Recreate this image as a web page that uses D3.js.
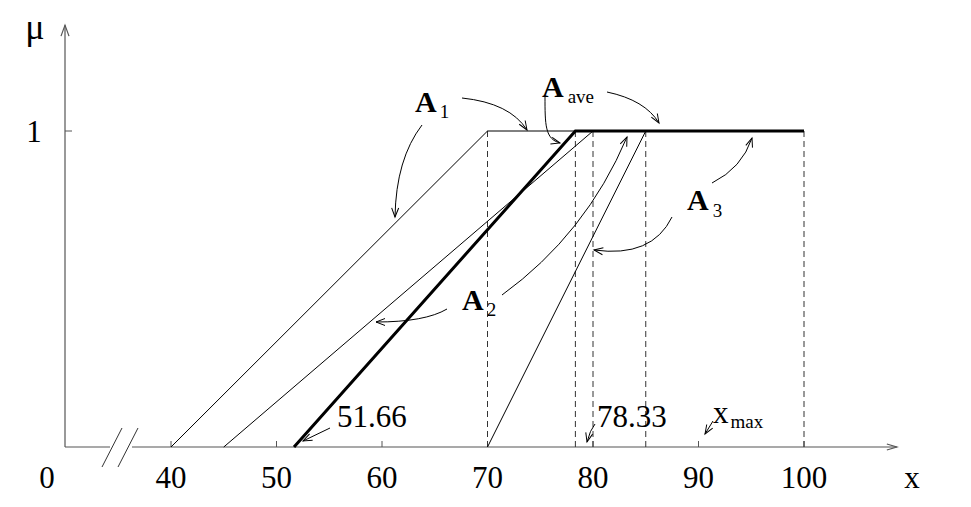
<!DOCTYPE html>
<html>
<head>
<meta charset="utf-8">
<script src="https://cdn.jsdelivr.net/npm/d3@7"></script>
<style>
  html, body { margin: 0; padding: 0; background: #fff; }
  svg text { font-family: "Liberation Serif", "Times New Roman", serif; fill: #000; }
</style>
</head>
<body>
<div id="chart"></div>
<script>
'use strict';

// membership functions (x, mu)
var xTicks = [40, 50, 60, 70, 80, 90, 100];
var seriesA1 = [[40, 0], [70, 1], [100, 1]];
var seriesA2 = [[45, 0], [80, 1], [100, 1]];
var seriesA3 = [[70, 0], [85, 1], [100, 1]];
var seriesAve = [[51.66, 0], [78.33, 1], [100, 1]];
var dashedX = [70, 78.33, 80, 85, 100];

var width = 971, height = 507;

var xScale = d3.scaleLinear().domain([40, 100]).range([171, 804]);
var yScale = d3.scaleLinear().domain([0, 1]).range([447, 131]);

var svg = d3.select('#chart')
  .append('svg')
  .attr('width', width)
  .attr('height', height);

var defs = svg.append('defs');
defs.append('marker')
  .attr('id', 'open')
  .attr('viewBox', '-10 -5 12 10')
  .attr('refX', 0)
  .attr('refY', 0)
  .attr('markerWidth', 12)
  .attr('markerHeight', 10)
  .attr('markerUnits', 'userSpaceOnUse')
  .attr('orient', 'auto')
  .append('path')
  .attr('d', 'M-9,-3.5L0,0L-9,3.5')
  .attr('fill', 'none')
  .attr('stroke', '#000')
  .attr('stroke-width', 1);

var x0 = 65, y0 = yScale(0);
var axisColor = '#555';

// axes
svg.append('line')
  .attr('x1', x0).attr('y1', y0).attr('x2', x0).attr('y2', yScale(1.335))
  .attr('stroke', axisColor).attr('stroke-width', 1.2);
svg.append('path')
  .attr('d', 'M' + (x0 - 4) + ',' + (yScale(1.335) + 11) + 'L' + x0 + ',' + yScale(1.335) + 'L' + (x0 + 4) + ',' + (yScale(1.335) + 11))
  .attr('fill', 'none').attr('stroke', axisColor).attr('stroke-width', 1.2);

svg.append('line')
  .attr('x1', x0).attr('y1', y0).attr('x2', 110).attr('y2', y0)
  .attr('stroke', axisColor).attr('stroke-width', 1.2);
svg.append('line')
  .attr('x1', 132).attr('y1', y0).attr('x2', xScale(108.8)).attr('y2', y0)
  .attr('stroke', axisColor).attr('stroke-width', 1.2);
svg.append('path')
  .attr('d', 'M' + (xScale(108.8) - 10) + ',' + (y0 - 3) + 'L' + xScale(108.8) + ',' + y0 + 'L' + (xScale(108.8) - 10) + ',' + (y0 + 3))
  .attr('fill', 'none').attr('stroke', axisColor).attr('stroke-width', 1.2);

// axis break
[102, 118].forEach(function(bx) {
  svg.append('line')
    .attr('x1', bx).attr('y1', 467).attr('x2', bx + 20).attr('y2', 428)
    .attr('stroke', '#333').attr('stroke-width', 1);
});

// ticks
svg.selectAll('.xtick')
  .data(xTicks)
  .enter().append('line')
  .attr('class', 'xtick')
  .attr('x1', function(d) { return xScale(d); })
  .attr('x2', function(d) { return xScale(d); })
  .attr('y1', y0)
  .attr('y2', y0 - 6)
  .attr('stroke', axisColor);

svg.selectAll('.xlabel')
  .data(xTicks)
  .enter().append('text')
  .attr('class', 'xlabel')
  .attr('x', function(d) { return xScale(d); })
  .attr('y', 488)
  .attr('text-anchor', 'middle')
  .attr('font-size', 31)
  .text(function(d) { return d; });

svg.append('text').attr('x', 47).attr('y', 488).attr('text-anchor', 'middle').attr('font-size', 31).text('0');
svg.append('text').attr('x', 912).attr('y', 488).attr('text-anchor', 'middle').attr('font-size', 31).text('x');

svg.append('line')
  .attr('x1', x0).attr('x2', x0 + 7).attr('y1', yScale(1)).attr('y2', yScale(1))
  .attr('stroke', axisColor);
svg.append('text').attr('x', 34).attr('y', yScale(1) + 11).attr('text-anchor', 'middle').attr('font-size', 31).text('1');
svg.append('text').attr('x', 35).attr('y', 39).attr('text-anchor', 'middle').attr('font-size', 36).text('μ');

// dashed verticals
svg.selectAll('.drop')
  .data(dashedX)
  .enter().append('line')
  .attr('class', 'drop')
  .attr('x1', function(d) { return xScale(d); })
  .attr('x2', function(d) { return xScale(d); })
  .attr('y1', yScale(1))
  .attr('y2', y0)
  .attr('stroke', '#333')
  .attr('stroke-width', 1)
  .attr('stroke-dasharray', '6,4');

// membership lines
var line = d3.line()
  .x(function(d) { return xScale(d[0]); })
  .y(function(d) { return yScale(d[1]); });

[seriesA1, seriesA2, seriesA3].forEach(function(s) {
  svg.append('path')
    .datum(s)
    .attr('d', line)
    .attr('fill', 'none')
    .attr('stroke', '#000')
    .attr('stroke-width', 1);
});

svg.append('path')
  .datum(seriesAve)
  .attr('d', line)
  .attr('fill', 'none')
  .attr('stroke', '#000')
  .attr('stroke-width', 3);

// annotation arrows (pixel layout)
var arrows = [
  'M462,98 Q510,103 527,130',
  'M422,125 Q396,159 395,217',
  'M545,96 C545,125 545,139 560,143',
  'M607,92 Q645,100 659,123',
  'M712,183 Q742,168 752,138',
  'M672,217 Q652,258 594,250',
  'M447,309 Q425,322 376,322',
  'M502,295 Q586,234 627,137',
  'M330,428 L303,441',
  'M595,424 Q590,430 587,442',
  'M713,421 L705,434'
];
svg.selectAll('.note')
  .data(arrows)
  .enter().append('path')
  .attr('class', 'note')
  .attr('d', function(d) { return d; })
  .attr('fill', 'none')
  .attr('stroke', '#000')
  .attr('stroke-width', 1)
  .attr('marker-end', 'url(#open)');

// labels
var labels = [
  {x: 415, y: 112, main: 'A', sub: '1', dx: 3, dy: 6},
  {x: 542, y: 97, main: 'A', sub: 'ave', dx: 4, dy: 6},
  {x: 687, y: 210, main: 'A', sub: '3', dx: 4, dy: 7},
  {x: 462, y: 310, main: 'A', sub: '2', dx: 3, dy: 6}
];
labels.forEach(function(l) {
  var t = svg.append('text').attr('x', l.x).attr('y', l.y);
  t.append('tspan').attr('font-size', 30).attr('font-weight', 'bold').text(l.main);
  t.append('tspan').attr('font-size', 19).attr('dx', l.dx).attr('dy', l.dy).text(l.sub);
});

svg.append('text').attr('x', 337).attr('y', 427).attr('font-size', 31).text('51.66');
svg.append('text').attr('x', 597).attr('y', 427).attr('font-size', 31).text('78.33');
var xm = svg.append('text').attr('x', 713).attr('y', 423);
xm.append('tspan').attr('font-size', 31).text('x');
xm.append('tspan').attr('font-size', 19).attr('dx', 2).attr('dy', 5).text('max');
</script>
</body>
</html>
